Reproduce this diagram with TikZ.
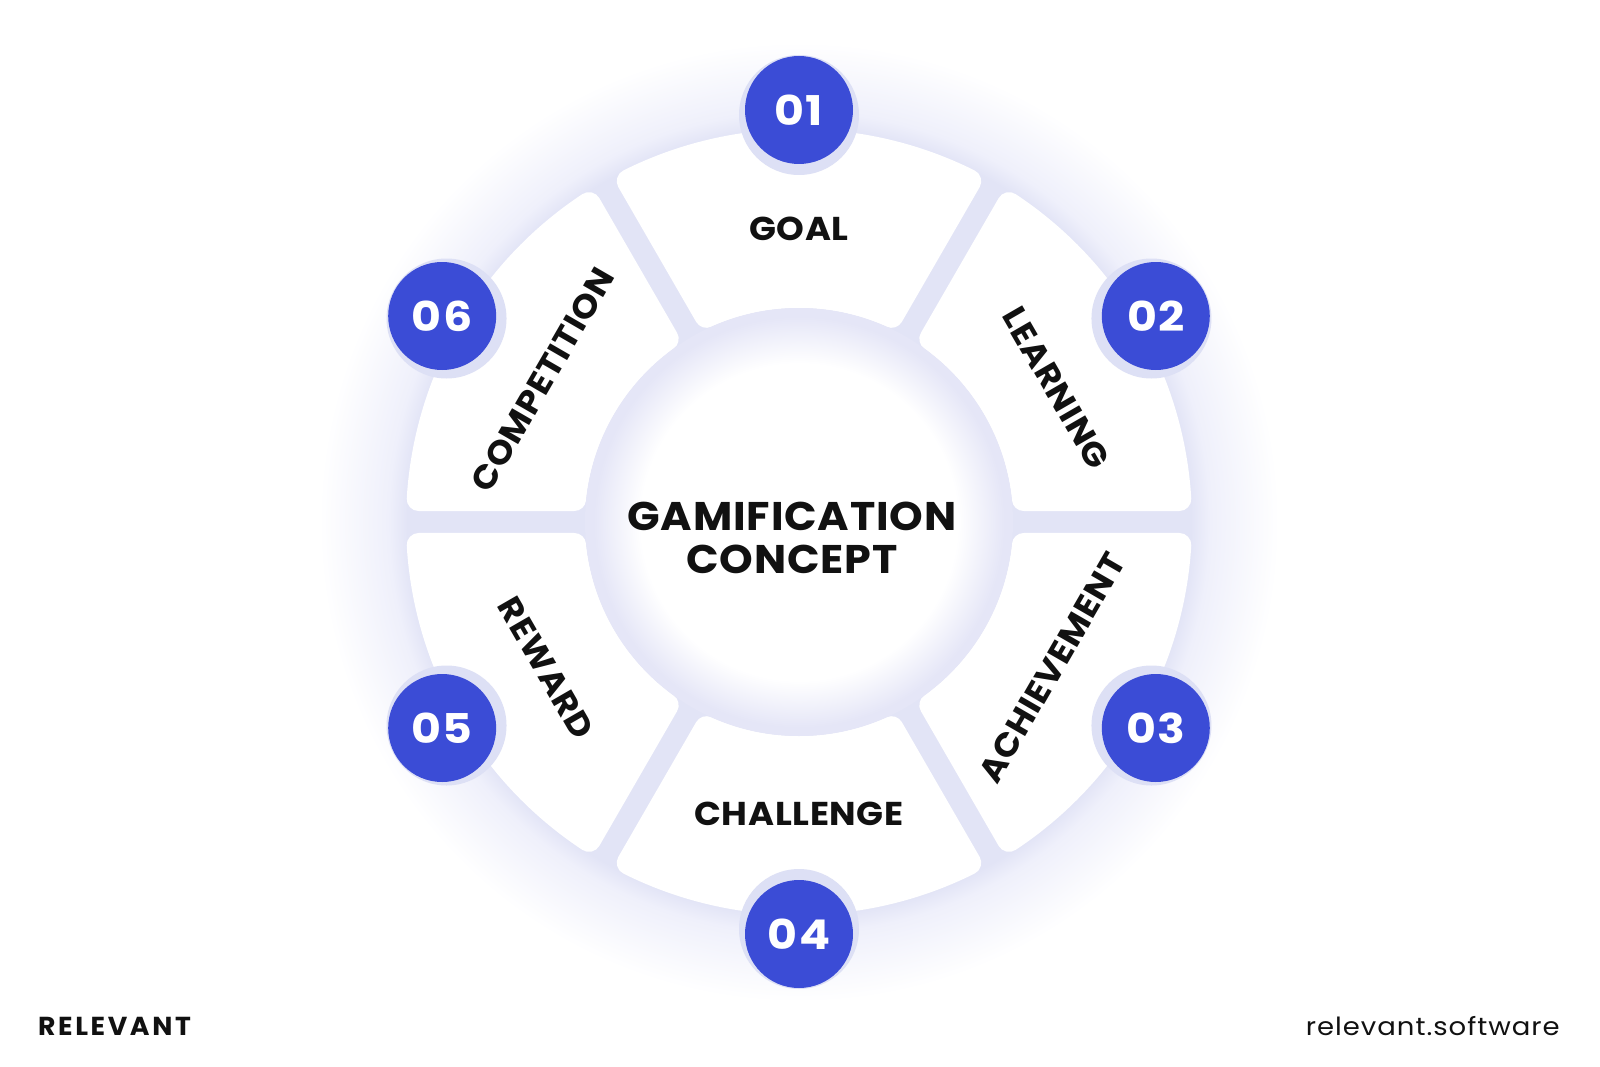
\documentclass[tikz,border=0pt]{standalone}
\usepackage{fontspec}
\setmainfont{Poppins}
\definecolor{blueN}{HTML}{3B4CD6}
\definecolor{lavA}{HTML}{E2E4F6}
\definecolor{lavB}{HTML}{EFF0FB}
\definecolor{lavD}{HTML}{E5E6F7}
\definecolor{halo}{HTML}{DDE0F5}
\definecolor{ink}{HTML}{111111}
\pgfdeclareradialshading{glowsh}{\pgfpoint{0bp}{0bp}}{color(0bp)=(lavA); color(20.4bp)=(lavA); color(21.4bp)=(lavB); color(25bp)=(white); color(50bp)=(white)}
\pgfdeclareradialshading{discsh}{\pgfpoint{0bp}{0bp}}{color(0bp)=(white); color(18.5bp)=(white); color(24bp)=(lavD); color(25bp)=(lavD); color(50bp)=(lavD)}
\newfontfamily\lblfont[FakeStretch=1.07, LetterSpace=2]{Poppins}
\newfontfamily\numfont[FakeStretch=1.12, LetterSpace=3]{Poppins}
\newfontfamily\brandfont[FakeStretch=1.03, LetterSpace=10]{Poppins}
\newfontfamily\sitefont[FakeStretch=1.1, LetterSpace=4]{Poppins}
\tikzset{
  seg/.style={fill=white, draw=white, line width=24pt, line join=round},
  numdisc/.style={circle, fill=blueN, minimum size=108pt, inner sep=0pt, text=white, font=\numfont\fontsize{41}{48}\selectfont\bfseries},
  lbl/.style={inner sep=0pt, text=ink, font=\lblfont\fontsize{33}{40}\selectfont\bfseries},
  ctr/.style={inner sep=0pt, text=ink, anchor=base, font=\lblfont\fontsize{40}{48}\selectfont\bfseries},
}
\begin{document}
\begin{tikzpicture}[x=1pt,y=1pt]
\useasboundingbox (-799,-544) rectangle (801,522);
\fill[white] (-799,-544) rectangle (801,522);
% outer glow
\shade[shading=glowsh] (0,0) circle (480);
% segments
\pgfmathsetmacro{\ao}{asin(23/381)}
\pgfmathsetmacro{\ai}{asin(23/226)}
\foreach \th in {90,30,-30,-90,-150,150}{
  \path[seg] (\th+30-\ao:381) arc[start angle=\th+30-\ao, end angle=\th-30+\ao, radius=381]
     -- (\th-30+\ai:226) arc[start angle=\th-30+\ai, end angle=\th+30-\ai, radius=226] -- cycle;
}
% central disc
\shade[shading=discsh] (0,0) circle (214);
% number discs
\foreach \th/\n in {90/01,30/02,-30/03,-90/04,-150/05,150/06}{
  \fill[halo] (\th:407) circle (60);
  \node[numdisc] (n\n) at (\th:412) {\n};
}
% labels
\node[lbl] (goal) at (90:293) {GOAL};
\node[lbl, rotate=-60] (learning) at (27.5:290) {LEARNING};
\node[lbl, rotate=60] (achievement) at (-30:292) {ACHIEVEMENT};
\node[lbl] (challenge) at (-90:292) {CHALLENGE};
\node[lbl, rotate=-60] (reward) at (-150:292) {REWARD};
\node[lbl, rotate=60] (competition) at (151:293) {COMPETITION};
% center text
\node[ctr] (t1) at (-7,-8) {GAMIFICATION};
\node[ctr] (t2) at (-7,-51) {CONCEPT};
% footer
\node[inner sep=0pt, anchor=base west, text=ink, font=\brandfont\fontsize{26}{30}\selectfont\bfseries] (brand) at (-761,-513) {RELEVANT};
\node[inner sep=0pt, anchor=base east, text=ink, font=\sitefont\fontsize{25}{30}\selectfont] (site) at (761,-513) {relevant.software};
\end{tikzpicture}
\end{document}
